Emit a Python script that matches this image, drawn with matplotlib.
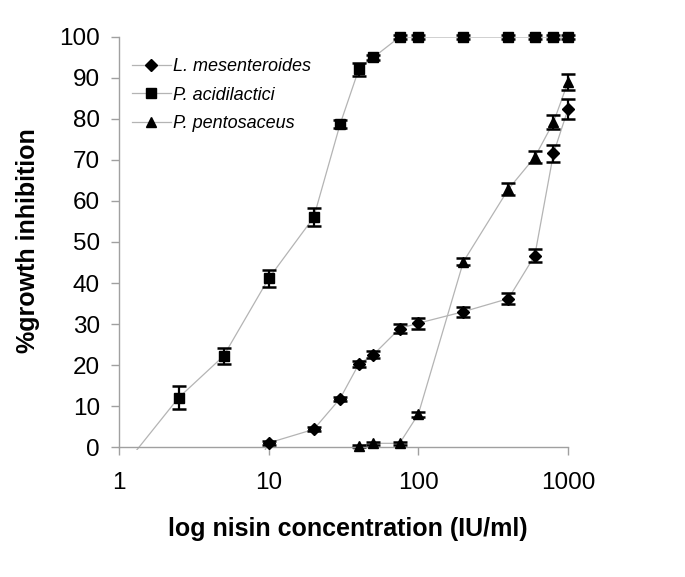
import matplotlib
matplotlib.use("Agg")
import matplotlib.pyplot as plt

plt.rcParams['font.family'] = ['Liberation Sans', 'DejaVu Sans']

# nisin concentration (IU/ml)
conc = [10, 20, 30, 40, 50, 75, 100, 200, 400, 600, 800, 1000]

# L. mesenteroides
mes_y = [1.0, 4.3, 11.8, 20.2, 22.5, 28.9, 30.2, 33.0, 36.2, 46.7, 71.6, 82.4]
mes_err = [0.5, 0.5, 0.5, 0.8, 0.8, 1.2, 1.3, 1.2, 1.3, 1.6, 2.0, 2.4]

# P. acidilactici
aci_x = [2.5, 5, 10, 20, 30, 40, 50, 75, 100, 200, 400, 600, 800, 1000]
aci_y = [12.0, 22.2, 41.1, 56.0, 78.7, 92.1, 95.0, 100, 100, 100, 100, 100, 100, 100]
aci_err = [2.8, 2.0, 2.0, 2.2, 1.0, 1.5, 0.5, 0.5, 0.5, 0.5, 0.5, 0.5, 0.5, 0.5]

# P. pentosaceus
pen_x = [40, 50, 75, 100, 200, 400, 600, 800, 1000]
pen_y = [0.2, 0.9, 0.9, 8.0, 45.2, 62.9, 70.7, 79.2, 89.0]
pen_err = [0.3, 0.4, 0.4, 0.6, 0.8, 1.5, 1.5, 1.7, 2.0]

# where each line leaves the plot area below zero
mes_start = (9.45, -0.8)
aci_start = (1.31, -0.8)
pen_start = (36.7, -0.8)

fig = plt.figure(figsize=(6.85, 5.77), dpi=100)
ax = fig.add_axes([0.1737, 0.2196, 0.6555, 0.7163])

line_kw = dict(color='#b4b4b4', lw=0.9, zorder=1)
err_kw = dict(fmt='none', ecolor='black', elinewidth=1.6, capsize=5, capthick=1.8, zorder=2)

series = [
    ('L. mesenteroides', 'D', 5.8, conc, mes_y, mes_err, mes_start),
    ('P. acidilactici', 's', 6.8, aci_x, aci_y, aci_err, aci_start),
    ('P. pentosaceus', '^', 7.8, pen_x, pen_y, pen_err, pen_start),
]

handles = []
for name, mk, ms, xs, ys, es, start in series:
    ax.plot([start[0]] + xs, [start[1]] + ys, **line_kw)
    eb = ax.errorbar(xs, ys, yerr=es, **err_kw)
    for part in eb.lines[1] + eb.lines[2]:
        part.set_clip_on(False)
    ax.plot(xs, ys, ls='none', marker=mk, ms=ms, color='black', zorder=3, clip_on=False)
    h, = ax.plot([], [], color='#b4b4b4', lw=0.9, marker=mk, ms=ms,
                 markerfacecolor='black', markeredgecolor='black')
    handles.append(h)

ax.set_xscale('log')
ax.set_xlim(1, 1000)
ax.set_ylim(-0.8, 100)
ax.set_xticks([1, 10, 100, 1000])
ax.set_xticklabels(['1', '10', '100', '1000'])
ax.xaxis.set_minor_locator(matplotlib.ticker.NullLocator())
ax.set_yticks(range(0, 101, 10))

for s in ['top', 'right']:
    ax.spines[s].set_visible(False)
ax.spines['bottom'].set_position(('data', 0))
ax.spines['left'].set_bounds(0, 100)
for s in ['bottom', 'left']:
    ax.spines[s].set_color('#a0a0a0')
    ax.spines[s].set_linewidth(1.0)

ax.tick_params(axis='both', direction='out', length=5.8, width=1.0,
               color='#a0a0a0', labelsize=17.5, labelcolor='black')
ax.tick_params(axis='x', pad=12)
ax.tick_params(axis='y', pad=8)

fig.text(348 / 685, 1 - 529 / 577, 'log nisin concentration (IU/ml)', ha='center', va='center',
         fontsize=18, fontweight='bold')
fig.text(28 / 685, 1 - 241 / 577, '%growth inhibition', rotation=90,
         ha='center', va='center', fontsize=18, fontweight='bold')

leg = ax.legend(handles, [s[0] for s in series], loc='upper left',
                bbox_to_anchor=(0.0, 0.98), frameon=False,
                prop={'style': 'italic', 'size': 13}, handlelength=2.2,
                labelspacing=0.65, handletextpad=0.1, borderaxespad=0.3)

fig.savefig('out.png', dpi=100)
